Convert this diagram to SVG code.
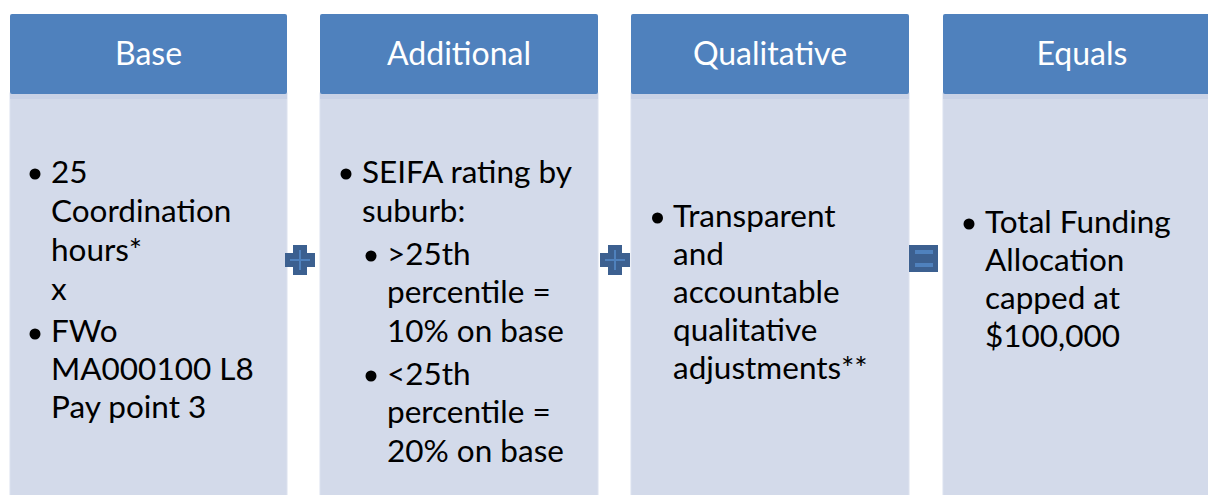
<svg xmlns="http://www.w3.org/2000/svg" width="1208" height="495" viewBox="0 0 1208 495">
<style>
.hdr{fill:#4F81BD}
.body{fill:#D3DAEA;stroke:#DCE2EF;stroke-width:1}
.ht{font-family:Lato,"Open Sans",sans-serif;font-size:32px;fill:#FFFFFF;text-anchor:middle}
.bt{font-family:Lato,"Open Sans",sans-serif;font-size:31.5px;fill:#000000}
.dot{fill:#000000}
.op{fill:#3C6090}
.opi{fill:#4F81BD}
</style>
<rect width="1208" height="495" fill="#FFFFFF"/>
<g id="base">
<rect class="body" x="10" y="93" width="277" height="410"/>
<rect x="10" y="93" width="277" height="6" fill="#C9D2E6"/>
<rect class="hdr" x="10" y="14" width="277" height="80" rx="2"/>
<text class="ht" x="148.5" y="65">Base</text>
<circle class="dot" cx="35" cy="174" r="5.5"/>
<text class="bt" x="51" y="183">25</text>
<text class="bt" x="51" y="222">Coordination</text>
<text class="bt" x="51" y="261">hours*</text>
<text class="bt" x="51" y="300">x</text>
<circle class="dot" cx="35" cy="334" r="5.5"/>
<text class="bt" x="51" y="342">FWo</text>
<text class="bt" x="51" y="380">MA000100 L8</text>
<text class="bt" x="51" y="418">Pay point 3</text>
</g>
<g id="additional">
<rect class="body" x="320" y="93" width="278" height="410"/>
<rect x="320" y="93" width="278" height="6" fill="#C9D2E6"/>
<rect class="hdr" x="320" y="14" width="278" height="80" rx="2"/>
<text class="ht" x="459" y="65">Additional</text>
<circle class="dot" cx="346" cy="174" r="5.5"/>
<text class="bt" x="362" y="183">SEIFA rating by</text>
<text class="bt" x="362" y="222">suburb:</text>
<circle class="dot" cx="371" cy="256" r="5.5"/>
<text class="bt" x="387" y="265">&gt;25th</text>
<text class="bt" x="387" y="303">percentile =</text>
<text class="bt" x="387" y="342">10% on base</text>
<circle class="dot" cx="371" cy="376" r="5.5"/>
<text class="bt" x="387" y="385">&lt;25th</text>
<text class="bt" x="387" y="423">percentile =</text>
<text class="bt" x="387" y="462">20% on base</text>
</g>
<g id="qualitative">
<rect class="body" x="631" y="93" width="278" height="410"/>
<rect x="631" y="93" width="278" height="6" fill="#C9D2E6"/>
<rect class="hdr" x="631" y="14" width="278" height="80" rx="2"/>
<text class="ht" x="770" y="65">Qualitative</text>
<circle class="dot" cx="657.5" cy="218" r="5.5"/>
<text class="bt" x="673" y="227">Transparent</text>
<text class="bt" x="673" y="265">and</text>
<text class="bt" x="673" y="303">accountable</text>
<text class="bt" x="673" y="341">qualitative</text>
<text class="bt" x="673" y="379">adjustments**</text>
</g>
<g id="equals">
<rect class="body" x="943" y="93" width="278" height="410"/>
<rect x="943" y="93" width="278" height="6" fill="#C9D2E6"/>
<rect class="hdr" x="943" y="14" width="278" height="80" rx="2"/>
<text class="ht" x="1082" y="65">Equals</text>
<circle class="dot" cx="969" cy="224" r="5.5"/>
<text class="bt" x="985" y="233">Total Funding</text>
<text class="bt" x="985" y="271">Allocation</text>
<text class="bt" x="985" y="309">capped at</text>
<text class="bt" x="985" y="347">$100,000</text>
</g>
<g id="connectors">
<g id="plus1">
<path class="op" d="M293,245 H307 V253 H315 V267 H307 V275 H293 V267 H285 V253 H293 Z"/>
<rect class="opi" x="299" y="250" width="2" height="20"/>
<rect class="opi" x="290" y="259" width="20" height="2"/>
</g>
<g id="plus2">
<path class="op" d="M608,245 H622 V253 H630 V267 H622 V275 H608 V267 H600 V253 H608 Z"/>
<rect class="opi" x="614" y="250" width="2" height="20"/>
<rect class="opi" x="605" y="259" width="20" height="2"/>
</g>
<g id="eq">
<rect class="op" x="909" y="245" width="29" height="27"/>
<rect class="opi" x="915" y="250" width="18" height="4"/>
<rect class="opi" x="915" y="263" width="18" height="4"/>
</g>
</g>
</svg>
